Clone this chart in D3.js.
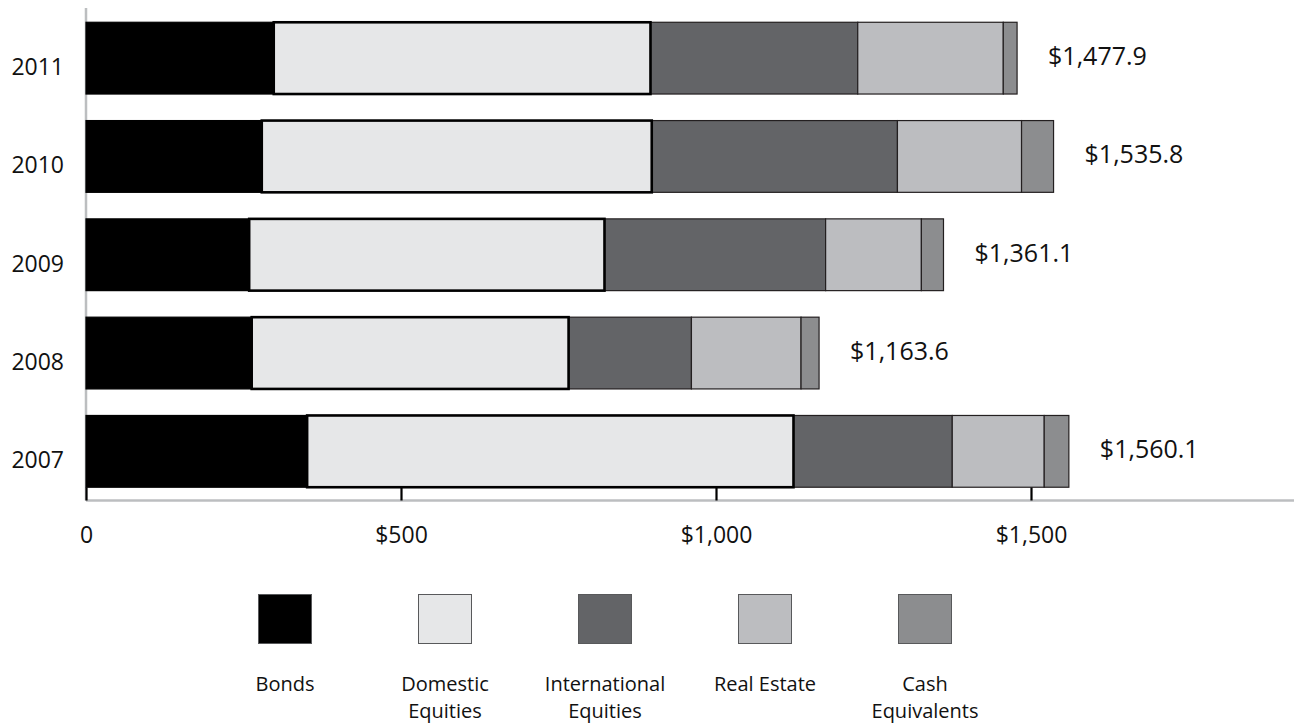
<!DOCTYPE html>
<html>
<head>
<meta charset="utf-8">
<script src="https://cdn.jsdelivr.net/npm/d3@7"></script>
<style>
  html, body { margin: 0; padding: 0; background: #fff; }
  svg { display: block; font-family: "Open Sans", "Noto Sans", sans-serif; }
</style>
</head>
<body>
<svg id="chart" width="1294" height="725"></svg>
<script>
// Years, top to bottom
const years = ["2011", "2010", "2009", "2008", "2007"];
// Asset classes, in stacking order
const series = ["Bonds", "Domestic Equities", "International Equities", "Real Estate", "Cash Equivalents"];
// Values ($ millions) per year, same order as years
const bonds         = [298, 279, 259, 263, 351];
const domestic      = [598, 619, 564, 503, 772];
const international = [329, 390, 351, 195, 252];
const realEstate    = [231, 197, 152, 174, 146];
const cash          = [21.9, 50.8, 35.1, 28.6, 39.1];
const totals        = [1477.9, 1535.8, 1361.1, 1163.6, 1560.1];
// Axis ticks
const tickValues = [0, 500, 1000, 1500];
const tickLabels = ["0", "$500", "$1,000", "$1,500"];
// Legend text, split into lines
const legendLines = [["Bonds"], ["Domestic", "Equities"], ["International", "Equities"], ["Real Estate"], ["Cash", "Equivalents"]];

const colors = ["#000000", "#e6e7e8", "#636467", "#bcbdc0", "#8c8d8f"];

const svg = d3.select("#chart");
const W = 1294;

const x = d3.scaleLinear().domain([0, 1500]).range([86, 1031]);
const y = d3.scaleBand().domain(years).range([9, 500.5]).paddingInner(0.27).paddingOuter(0.135);
const color = d3.scaleOrdinal().domain(series).range(colors);

// Build stacked table
const table = years.map((yr, i) => ({
  year: yr,
  "Bonds": bonds[i],
  "Domestic Equities": domestic[i],
  "International Equities": international[i],
  "Real Estate": realEstate[i],
  "Cash Equivalents": cash[i],
  total: totals[i]
}));
const stacked = d3.stack().keys(series)(table);

// Axis lines (light gray)
const axisY = 500.5;
svg.append("line")
  .attr("x1", x(0)).attr("x2", W)
  .attr("y1", axisY).attr("y2", axisY)
  .attr("stroke", "#bcbec0").attr("stroke-width", 2.5);
svg.append("line")
  .attr("x1", x(0)).attr("x2", x(0))
  .attr("y1", 8).attr("y2", axisY)
  .attr("stroke", "#bcbec0").attr("stroke-width", 2.5);

// Bars
const layers = svg.append("g").selectAll("g")
  .data(stacked)
  .join("g")
  .attr("fill", d => color(d.key));

layers.each(function(layer) {
  const isDomestic = layer.key === "Domestic Equities";
  const isBonds = layer.key === "Bonds";
  d3.select(this).selectAll("rect")
    .data(layer)
    .join("rect")
    .attr("x", d => x(d[0]))
    .attr("y", d => y(d.data.year))
    .attr("width", d => x(d[1]) - x(d[0]))
    .attr("height", y.bandwidth())
    .attr("stroke", isBonds ? "#000" : (isDomestic ? "#000" : "#231f20"))
    .attr("stroke-width", isDomestic ? 2.6 : 1.2);
});
// Keep the heavy outline of domestic equities on top
layers.filter(d => d.key === "Domestic Equities").raise();

// Ticks (black, pointing up into the plot)
const xAxis = d3.axisBottom(x)
  .tickValues(tickValues)
  .tickSizeInner(-13)
  .tickSizeOuter(0)
  .tickPadding(0)
  .tickFormat((d, i) => tickLabels[i]);
const gx = svg.append("g").attr("transform", `translate(0,${axisY})`).call(xAxis);
gx.select(".domain").remove();
gx.selectAll(".tick line").attr("stroke", "#000").attr("stroke-width", 2.2);
gx.selectAll(".tick text")
  .attr("y", 42)
  .attr("dy", 0)
  .attr("fill", "#111")
  .style("font-size", "23px")
  .style("font-family", "'Open Sans', sans-serif");

// Year labels
svg.append("g").selectAll("text")
  .data(years)
  .join("text")
  .attr("x", 64)
  .attr("y", d => y(d) + y.bandwidth() / 2 + 17)
  .attr("text-anchor", "end")
  .attr("fill", "#111")
  .style("font-size", "23px")
  .text(d => d);

// Total labels
svg.append("g").selectAll("text")
  .data(table)
  .join("text")
  .attr("x", d => x(d.total) + 31)
  .attr("y", d => y(d.year) + y.bandwidth() / 2 + 7)
  .attr("fill", "#111")
  .style("font-size", "25px")
  .text(d => "$" + d3.format(",.1f")(d.total));

// Legend
const lx = d3.scalePoint().domain(series).range([285, 925]);
const legend = svg.append("g").selectAll("g")
  .data(series)
  .join("g")
  .attr("transform", d => `translate(${lx(d)},0)`);
legend.append("rect")
  .attr("x", -26.5).attr("y", 594.5)
  .attr("width", 53).attr("height", 49)
  .attr("fill", d => color(d))
  .attr("stroke", "#58595b").attr("stroke-width", 1);
legend.append("text")
  .attr("text-anchor", "middle")
  .attr("fill", "#111")
  .style("font-size", "20px")
  .selectAll("tspan")
  .data((d, i) => legendLines[i])
  .join("tspan")
  .attr("x", 0)
  .attr("y", (d, i) => 691 + i * 27)
  .text(d => d);
</script>
</body>
</html>
